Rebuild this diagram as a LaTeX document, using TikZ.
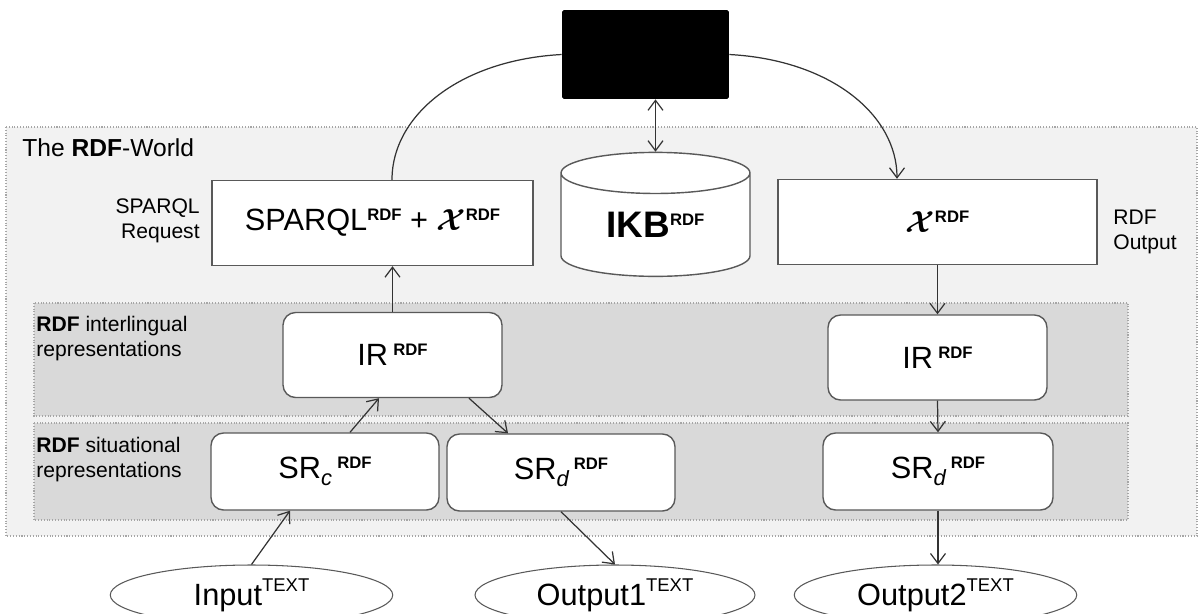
\documentclass[tikz,border=0pt]{standalone}
\usepackage{fontspec}
\setmainfont{Liberation Sans}
\usepackage{amsmath}
\usetikzlibrary{arrows.meta,shapes.geometric}
\definecolor{worldgray}{HTML}{F2F2F2}
\definecolor{bandgray}{HTML}{D9D9D9}
\definecolor{rimgray}{HTML}{A6A6A6}
\definecolor{edgegray}{HTML}{595959}
\newcommand{\rdfup}{\raisebox{.33em}{\fontsize{9.5}{10}\selectfont\bfseries RDF}}
\newcommand{\txtup}{\raisebox{.45em}{\fontsize{10.5}{11}\selectfont TEXT}}
\newcommand{\lowidx}[1]{\raisebox{-.22em}{\fontsize{12.5}{13}\selectfont\itshape #1}}
\newcommand{\chiX}{{\boldmath$\mathcal{X}$}}
\tikzset{
  world/.style={fill=worldgray,draw=rimgray,densely dotted,line width=.6pt},
  band/.style={fill=bandgray,draw=rimgray,densely dotted,line width=.6pt},
  flatbox/.style={draw=edgegray,fill=white,line width=.8pt,inner sep=0pt,
    minimum height=1.7cm,font=\fontsize{17.5}{20}\selectfont},
  softbox/.style={flatbox,rounded corners=.25cm},
  endell/.style={ellipse,draw=edgegray,fill=white,line width=.6pt,inner sep=0pt,
    minimum width=5.65cm,minimum height=1.2cm,font=\fontsize{17.5}{20}\selectfont},
  link/.style={-{Straight Barb[length=2mm,width=3mm]},line width=.7pt,draw=black!80},
  twolink/.style={link,{Straight Barb[length=2mm,width=3mm]}-{Straight Barb[length=2mm,width=3mm]}},
  sidetext/.style={font=\fontsize{12}{14}\selectfont,inner sep=0pt}
}
\begin{document}
\begin{tikzpicture}[x=0.02cm,y=-0.02cm]
\useasboundingbox (0,0) rectangle (1198,613);
\clip (0,0) rectangle (1198,613);
%panels
\draw[world] (6,127) rectangle (1197,536);
\draw[band] (34,303) rectangle (1128,416);
\draw[band] (34,423) rectangle (1128,520);
%top
\node[fill=black,rounded corners=1pt,inner sep=0pt,minimum width=3.34cm,minimum height=1.78cm] (blk) at (645.5,54.5) {};
\node[cylinder,shape border rotate=90,aspect=.42,draw=edgegray,fill=white,line width=.8pt,inner sep=0pt,
  minimum width=3.78cm,minimum height=2.48cm,font=\fontsize{21}{24}\selectfont\bfseries] (ikb) at (655.5,225) {IKB\rdfup};
\node[flatbox,minimum width=6.42cm] (sparql) at (372.5,223) {SPARQL\rdfup\ + \chiX\rdfup};
\node[flatbox,minimum width=6.38cm] (xout) at (937.5,222) {\chiX\rdfup};
%representations
\node[softbox,minimum width=4.38cm] (irl) at (392.5,355) {IR\,\rdfup};
\node[softbox,minimum width=4.38cm] (irr) at (937.5,357.5) {IR\,\rdfup};
\node[softbox,minimum width=4.56cm,minimum height=1.54cm] (src) at (325,471.5) {SR\lowidx{c}\,\rdfup};
\node[softbox,minimum width=4.56cm,minimum height=1.54cm] (sdm) at (561,472.5) {SR\lowidx{d}\,\rdfup};
\node[softbox,minimum width=4.6cm,minimum height=1.54cm] (sdr) at (938,471.5) {SR\lowidx{d}\,\rdfup};
%texts
\node[endell] (inp) at (251.5,595) {Input\txtup};
\node[endell,minimum width=5.6cm] (out1) at (615,595) {Output1\txtup};
\node[endell] (out2) at (935.5,595) {Output2\txtup};
%labels
\node[sidetext,anchor=west,font=\fontsize{14}{16}\selectfont] (world) at (22,148) {The \textbf{RDF}-World};
\node[sidetext,align=right,anchor=east] (reqlbl) at (200,221) {SPARQL\\Request};
\node[sidetext,align=left,anchor=west] (outlbl) at (1113,232) {RDF\\Output};
\node[sidetext,align=left,anchor=north west] (irlbl) at (36,316) {\textbf{RDF} interlingual\\representations};
\node[sidetext,align=left,anchor=north west] (srlbl) at (36,437) {\textbf{RDF} situational\\representations};
%links
\draw[line width=.7pt,draw=black!80] ([xshift=.39cm]sparql.north) .. controls (392,115) and (460,60) .. (blk.west);
\draw[link] (blk.east) .. controls (831,60) and (897,115) .. ([xshift=-.81cm]xout.north);
\draw[twolink] (ikb.north |- blk.south) -- (ikb.north);
\draw[link] (irl.north) -- (irl.north |- sparql.south);
\draw[link] (xout.south) -- (irr.north);
\draw[link] (irr.south) -- (sdr.north);
\draw[link] (sdr.south) -- (sdr.south |- out2.north);
\draw[link] ([xshift=.5cm]src.north) -- ([xshift=-.27cm]irl.south);
\draw[link] ([xshift=1.53cm]irl.south) -- ([xshift=-1.06cm]sdm.north);
\draw[link] (inp.north) -- ([xshift=-.7cm]src.south);
\draw[link] (sdm.south) -- (out1.north);
\end{tikzpicture}
\end{document}
